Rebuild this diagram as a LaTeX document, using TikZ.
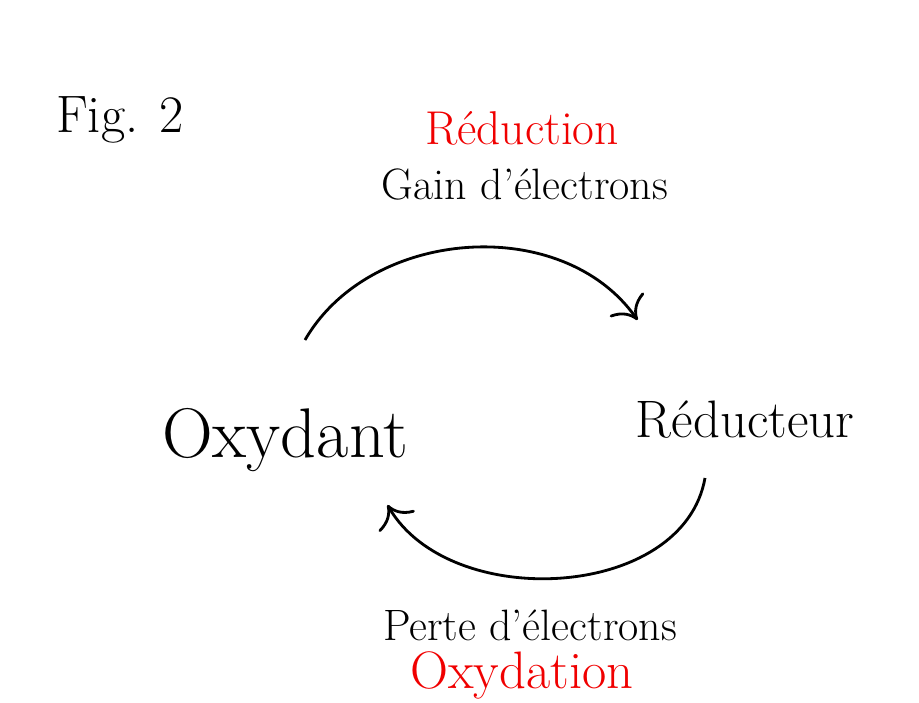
\documentclass[tikz,border=0pt]{standalone}
\usepackage{tikz}
\usetikzlibrary{arrows, arrows.meta, positioning, calc}
\definecolor{redoxred}{RGB}{240,0,0}

\begin{document}
\begin{tikzpicture}
\useasboundingbox (0,0) rectangle (18.38,14.06);

% Figure label
\node (fig) at (2.4,11.66) {\fontsize{30}{36}\selectfont Fig. 2};

% Top labels
\node[text=redoxred] (red) at (10.44,11.5) {\fontsize{27}{32}\selectfont Réduction};
\node (gain) at (10.5,10.36) {\fontsize{25}{30}\selectfont Gain d'électrons};

% Species
\node (ox) at (5.7,5.26) {\fontsize{40}{48}\selectfont Oxydant};
\node (reduc) at (14.9,5.66) {\fontsize{30}{36}\selectfont Réducteur};

% Bottom labels
\node (perte) at (10.6,1.56) {\fontsize{25}{30}\selectfont Perte d'électrons};
\node[text=redoxred] (oxy) at (10.44,0.56) {\fontsize{30}{36}\selectfont Oxydation};

% Arrow ends
\coordinate (topstart) at (6.1,7.26);
\coordinate (topend) at (12.75,7.66);
\coordinate (botstart) at (14.1,4.5);
\coordinate (botend) at (7.75,3.96);

% Arrows
\draw[-{To[scale=2.2]}, line width=1.6pt] (topstart) to[out=60, in=125] (topend);
\draw[-{To[scale=2.2]}, line width=1.6pt] (botstart) to[out=-100, in=-60] (botend);
\end{tikzpicture}
\end{document}
